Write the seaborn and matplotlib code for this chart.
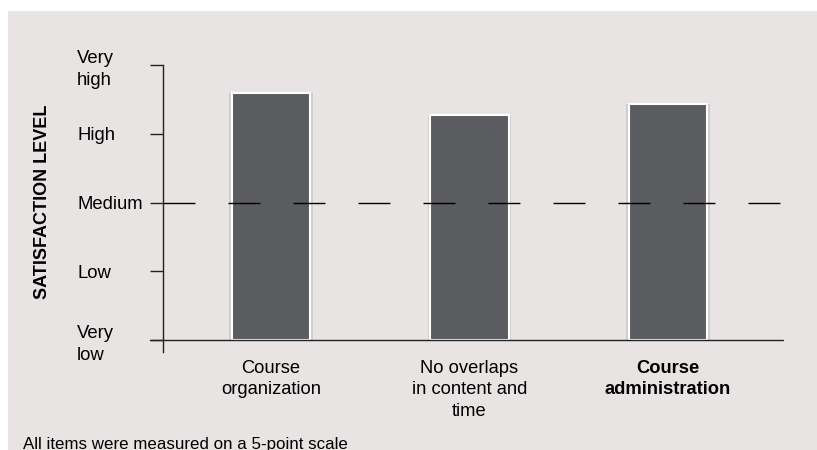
import numpy as np
import pandas as pd
import matplotlib.pyplot as plt
import matplotlib.patches as mpatches
import seaborn as sns

# data
items = ["Course\norganization", "No overlaps\nin content and\ntime", "Course\nadministration"]
satisfaction = [4.59, 4.27, 4.43]
level_values = [1, 2, 3, 4, 5]
level_names = ["Very\nlow", "Low", "Medium", "High", "Very\nhigh"]
scale_floor = 1
midpoint = 3
footnote = "All items were measured on a 5-point scale"

sns.set_theme(style="white")
plt.rcParams["font.family"] = ["Liberation Sans", "DejaVu Sans"]

df = pd.DataFrame({"item": items, "score": satisfaction})
df["height"] = df["score"] - scale_floor

W, H = 817, 450
fig = plt.figure(figsize=(W / 100, H / 100), dpi=100)
fig.patch.set_facecolor("white")
# grey panel behind the chart
fig.add_artist(mpatches.Rectangle((8 / W, 0), 1, (H - 11) / H, transform=fig.transFigure,
                                  facecolor="#e8e4e3", edgecolor="none", zorder=0))

ax = fig.add_axes([163 / W, (H - 352) / H, 620 / W, 287 / H])
ax.set_facecolor("none")

# soft shadow, then the bars with a white rim
sns.barplot(data=df, x="item", y="height", bottom=scale_floor, width=0.42, color="#d0cccb",
            saturation=1, linewidth=0, ax=ax)
sns.barplot(data=df, x="item", y="height", bottom=scale_floor, width=0.395, color="#5b5c60",
            saturation=1, edgecolor="white", linewidth=1.5, ax=ax)

ax.set_xlim(-0.544, 2.579)
ax.set_ylim(scale_floor - 12 / 68.75, 5)

# medium reference line and the x axis line
ax.axhline(midpoint, color="black", lw=1, linestyle=(0, (23, 23.8)), zorder=4)
ax.axhline(scale_floor, xmin=-13 / 620, xmax=1, color="#222222", lw=1, clip_on=False, zorder=4)

sns.despine(ax=ax, bottom=True)
ax.spines["left"].set_color("#222222")
ax.spines["left"].set_linewidth(1)

ax.set_yticks(level_values, labels=level_names)
ax.tick_params(axis="y", left=True, length=9.4, width=1, color="#222222", pad=52.5,
               labelsize=13.3, labelcolor="black")
for t in ax.get_yticklabels():
    t.set_ha("left")
    t.set_linespacing(1.35)

ax.set_xticks(range(len(items)), labels=items)
ax.tick_params(axis="x", bottom=False, length=0, pad=5.8, labelsize=13.2, labelcolor="black")
for t in ax.get_xticklabels():
    t.set_linespacing(1.33)
ax.get_xticklabels()[2].set_fontweight("bold")

ax.set_xlabel("")
ax.set_ylabel("SATISFACTION LEVEL", fontsize=13, fontweight="bold", color="black", va="center")
ax.yaxis.set_label_coords(-0.194, 0.524)

fig.text(23 / W, 1.5 / H, footnote, fontsize=12.2, ha="left", va="baseline", color="black")

fig.savefig("out.png", dpi=100)
